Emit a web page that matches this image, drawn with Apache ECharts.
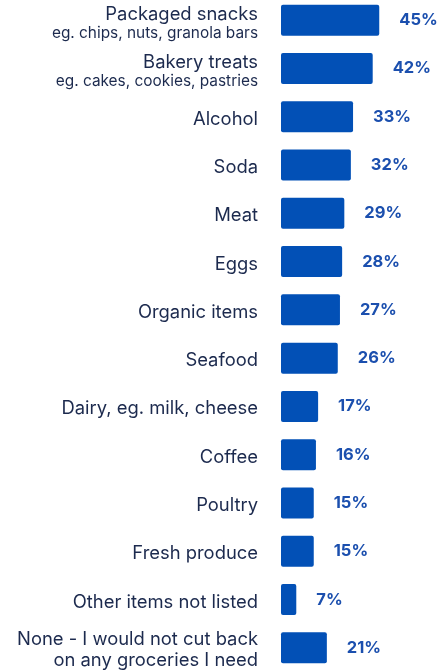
<!DOCTYPE html>
<html><head><meta charset="utf-8">
<script src="https://cdn.jsdelivr.net/npm/echarts@6/dist/echarts.min.js"></script>
<style>html,body{margin:0;padding:0;background:#fff;overflow:hidden}#c{width:444px;height:677px;position:relative;top:-4px}</style>
</head><body><div id="c"></div>
<script>
const categories = ["Packaged snacks","Bakery treats","Alcohol","Soda","Meat","Eggs","Organic items","Seafood","Dairy, eg. milk, cheese","Coffee","Poultry","Fresh produce","Other items not listed","None - I would not cut back"];
const subLabels = ["eg. chips, nuts, granola bars","eg. cakes, cookies, pastries","","","","","","","","","","","","on any groceries I need"];
const values = [45,42,33,32,29,28,27,26,17,16,15,15,7,21];
const subMain = {13:true};
const chart = echarts.init(document.getElementById('c'));
chart.setOption({
  animation:false,
  grid:{left:281, top:0, width:131, height:676},
  xAxis:{type:'value', min:0, max:60, show:false},
  yAxis:{type:'category', inverse:true, data:categories,
    axisLine:{show:false}, axisTick:{show:false},
    axisLabel:{margin:23, align:'right', padding:[5,0,0,0],
      formatter:function(v, i){
        const s = subLabels[i];
        if(!s) return '{m|'+v+'}';
        return '{m|'+v+'}\n{'+(subMain[i]?'m2':'s')+'|'+s+'}';
      },
      rich:{
        m:{fontFamily:'Inter', fontSize:18.4, color:'#1c2a4e', lineHeight:21, align:'right'},
        m2:{fontFamily:'Inter', fontSize:18.4, color:'#1c2a4e', lineHeight:21, align:'right'},
        s:{fontFamily:'Inter', fontSize:15.4, color:'#1c2a4e', lineHeight:17, align:'right'}
      }
    }
  },
  series:[{type:'bar', data:values, barWidth:31,
    itemStyle:{color:'#0250b6', borderRadius:2},
    label:{show:true, position:'right', distance:20, formatter:'{c}%', padding:[3,0,0,0],
      fontFamily:'Inter', fontWeight:'bold', fontSize:16.5, color:'#1b4fae'}
  }]
});
</script></body></html>
